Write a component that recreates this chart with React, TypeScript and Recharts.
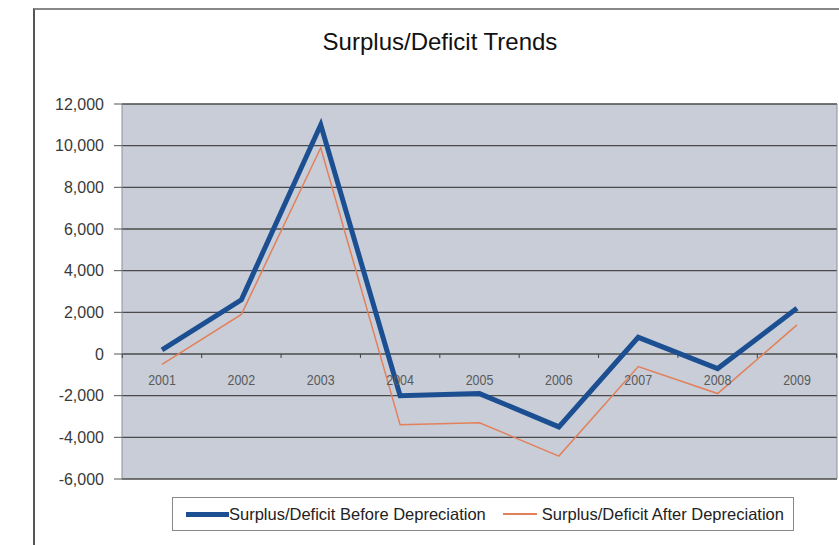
import { CartesianGrid, Line, LineChart, XAxis, YAxis } from "recharts";

const years = ['2001', '2002', '2003', '2004', '2005', '2006', '2007', '2008', '2009'];
const beforeDep = [200, 2600, 11000, -2000, -1900, -3500, 800, -700, 2200];
const afterDep = [-500, 1900, 9900, -3400, -3300, -4900, -600, -1900, 1400];
const yTicks = [-6000, -4000, -2000, 0, 2000, 4000, 6000, 8000, 10000, 12000];

const data = years.map((year, i) => ({
    year,
    before: beforeDep[i],
    after: afterDep[i],
}));

const PLOT_TOP = 104;
const PLOT_BOTTOM = 479;
const Y_MIN = -6000;
const Y_MAX = 12000;
// x labels sit on the zero line, like the Excel original
const zeroY = PLOT_TOP + (PLOT_BOTTOM - PLOT_TOP) * (Y_MAX / (Y_MAX - Y_MIN));
const HALF_STEP = 39.7;

const font = 'Arial, "Liberation Sans", sans-serif';

function YearTick(props: any) {
    const { x, payload, index } = props;
    return (
        <g>
            <line x1={x - HALF_STEP} x2={x - HALF_STEP} y1={zeroY} y2={zeroY + 4} stroke="#444" />
            {index === years.length - 1 && (
                <line x1={x + HALF_STEP} x2={x + HALF_STEP} y1={zeroY} y2={zeroY + 4} stroke="#444" />
            )}
            <text x={x} y={zeroY + 31} textAnchor="middle" fontSize={14.5} fill="#5a5a5a" fontFamily={font}
                transform={`translate(${x},0) scale(0.86,1) translate(${-x},0)`}>
                {payload.value}
            </text>
        </g>
    );
}

function LegendBox() {
    return (
        <div style={{
            position: 'absolute', left: 172, top: 497, width: 622, height: 34,
            border: '1px solid #888', background: '#fff',
            display: 'flex', alignItems: 'center', fontFamily: font, fontSize: 16.5, color: '#222',
            boxSizing: 'border-box', paddingLeft: 13, whiteSpace: 'nowrap',
        }}>
            <span style={{ display: 'inline-block', width: 43, height: 5, background: '#1b4f91' }} />
            <span>Surplus/Deficit Before Depreciation</span>
            <span style={{ display: 'inline-block', width: 34, height: 1.5, background: '#e2805a', marginLeft: 17 }} />
            <span style={{ marginLeft: 5 }}>Surplus/Deficit After Depreciation</span>
        </div>
    );
}

export default function App() {
    return (
        <div style={{ position: 'absolute', left: 0, top: 0, width: 839, height: 545, background: '#fff', overflow: 'hidden' }}>
            <div style={{
                position: 'absolute', left: 33, top: 8, width: 830, height: 560,
                borderLeft: '2px solid #555', borderTop: '2px solid #888',
            }} />
            <div style={{
                position: 'absolute', left: 0, width: 880, top: 28, textAlign: 'center',
                fontFamily: font, fontSize: 24, color: '#111',
            }}>
                Surplus/Deficit Trends
            </div>
            <div style={{ position: 'absolute', left: 0, top: 0 }}>
                <LineChart width={839} height={545} data={data}
                    margin={{ top: PLOT_TOP, right: 1, bottom: 545 - PLOT_BOTTOM - 1, left: 22 }}>
                    <CartesianGrid yAxisId="left" vertical={false} stroke="#4a4a4a" strokeWidth={1.3}
                        fill="#c8cdd8" fillOpacity={1} />
                    <XAxis dataKey="year" height={1} axisLine={false} tickLine={false}
                        padding={{ left: 40, right: 40 }} tick={<YearTick />} interval={0} />
                    <YAxis yAxisId="left" domain={[Y_MIN, Y_MAX]} ticks={yTicks} width={100}
                        axisLine={{ stroke: '#8a8f9a' }} tickLine={{ stroke: '#555' }} tickSize={8}
                        tick={{ fill: '#3a3a3a', fontSize: 16, fontFamily: font, dx: -8 }}
                        tickFormatter={(v: number) => v.toLocaleString('en-US')} />
                    <YAxis yAxisId="right" orientation="right" domain={[Y_MIN, Y_MAX]} width={1}
                        tick={false} tickLine={false} axisLine={{ stroke: '#8a8f9a' }} />
                    <Line yAxisId="left" dataKey="after" type="linear" stroke="#e2805a" strokeWidth={1.5}
                        dot={false} isAnimationActive={false} />
                    <Line yAxisId="left" dataKey="before" type="linear" stroke="#1b4f91" strokeWidth={5}
                        dot={false} isAnimationActive={false} />
                </LineChart>
            </div>
            <LegendBox />
        </div>
    );
}
